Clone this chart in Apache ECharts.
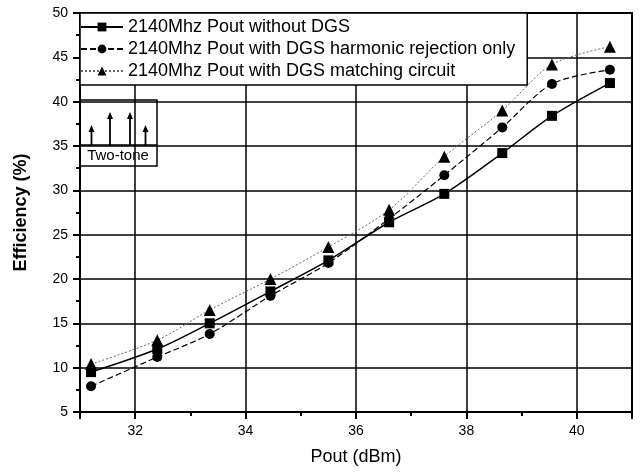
<!DOCTYPE html>
<html>
<head>
<meta charset="utf-8">
<script src="https://cdn.jsdelivr.net/npm/echarts@6/dist/echarts.min.js"></script>
<style>
  html, body { margin: 0; padding: 0; background: #fff; }
  #chart { width: 644px; height: 474px; }
</style>
</head>
<body>
<div id="chart"></div>
<script>
// Pout (dBm) measurement points
var pout = [31.2, 32.4, 33.35, 34.45, 35.5, 36.6, 37.6, 38.65, 39.55, 40.6];
// efficiency (%) per series
var effNoDgs = [9.5, 12.1, 15.0, 18.6, 22.1, 26.4, 29.6, 34.2, 38.4, 42.1];
var effHarmonic = [7.9, 11.2, 13.8, 18.1, 21.8, 26.8, 31.7, 37.1, 42.0, 43.6];
var effMatching = [10.4, 13.1, 16.5, 20.0, 23.6, 27.8, 33.8, 39.0, 44.2, 46.2];
var seriesNames = [
  '2140Mhz Pout without DGS',
  '2140Mhz Pout with DGS harmonic rejection only',
  '2140Mhz Pout with DGS matching circuit'
];

function pairs(ys) {
  return pout.map(function (x, i) { return [x, ys[i]]; });
}

var font = 'Arial, "Liberation Sans", sans-serif';
var chart = echarts.init(document.getElementById('chart'));

// little arrows of the two-tone inset
function arrow(x, top) {
  return [
    { type: 'line', shape: { x1: x, y1: 145, x2: x, y2: top + 4 }, style: { stroke: '#000', lineWidth: 1.8 } },
    { type: 'polygon', shape: { points: [[x - 3, top + 7], [x + 3, top + 7], [x, top]] }, style: { fill: '#000' } }
  ];
}

var inset = [
  { type: 'rect', shape: { x: 80, y: 100, width: 77, height: 66 }, style: { fill: '#fff', stroke: '#000', lineWidth: 1.5 } },
  { type: 'line', shape: { x1: 80, y1: 145, x2: 157, y2: 145 }, style: { stroke: '#000', lineWidth: 1.5 } },
  { type: 'text', x: 118, y: 156, style: { text: 'Two-tone', fontSize: 15, fontFamily: font, fill: '#000', align: 'center', verticalAlign: 'middle' } }
].concat(arrow(91.5, 125), arrow(110, 112), arrow(130, 112), arrow(145.5, 125));

var tickStyle = { color: '#000', width: 2 };

chart.setOption({
  animation: false,
  backgroundColor: '#fff',
  textStyle: { fontFamily: font, color: '#000' },
  grid: {
    left: 80, right: 12, top: 13, bottom: 62,
    show: true, borderColor: '#000', borderWidth: 2
  },
  legend: {
    orient: 'vertical',
    left: 80, top: 13,
    padding: [3, 12, 3, 0],
    itemGap: 0,
    itemWidth: 42,
    itemHeight: 11,
    backgroundColor: '#fff',
    borderColor: '#000',
    borderWidth: 1.5,
    textStyle: { fontSize: 18, color: '#000', fontFamily: font, lineHeight: 22 },
    data: seriesNames
  },
  xAxis: {
    type: 'value',
    min: 31, max: 41, splitNumber: 5,
    name: 'Pout (dBm)',
    nameLocation: 'middle',
    nameGap: 36,
    nameTextStyle: { fontSize: 18, color: '#000', fontFamily: font },
    axisLine: { lineStyle: { color: '#000', width: 2 } },
    axisTick: { show: true, length: 7, lineStyle: tickStyle },
    minorTick: { show: true, splitNumber: 2, length: 4, lineStyle: tickStyle },
    axisLabel: { fontSize: 14, color: '#000', margin: 12, showMinLabel: false, showMaxLabel: false },
    splitLine: { show: true, lineStyle: { color: '#000', width: 1.5 } }
  },
  yAxis: {
    type: 'value',
    min: 5, max: 50, interval: 5,
    name: 'Efficiency (%)',
    nameLocation: 'middle',
    nameGap: 50,
    nameTextStyle: { fontSize: 18, fontWeight: 'bold', color: '#000', fontFamily: font },
    axisLine: { lineStyle: { color: '#000', width: 2 } },
    axisTick: { show: true, length: 7, lineStyle: tickStyle },
    minorTick: { show: true, splitNumber: 2, length: 4, lineStyle: tickStyle },
    axisLabel: { fontSize: 14, color: '#000', margin: 12 },
    splitLine: { show: true, lineStyle: { color: '#000', width: 1.5 } }
  },
  series: [
    {
      name: seriesNames[0], type: 'line', data: pairs(effNoDgs),
      smooth: 0.3, symbol: 'rect', symbolSize: 10,
      itemStyle: { color: '#000' },
      lineStyle: { color: '#000', width: 1.5, type: 'solid' }
    },
    {
      name: seriesNames[1], type: 'line', data: pairs(effHarmonic),
      smooth: 0.3, symbol: 'circle', symbolSize: 10,
      itemStyle: { color: '#000' },
      lineStyle: { color: '#000', width: 1.2, type: [6, 3] }
    },
    {
      name: seriesNames[2], type: 'line', data: pairs(effMatching),
      smooth: 0.3, symbol: 'triangle', symbolSize: 12,
      itemStyle: { color: '#000' },
      lineStyle: { color: '#666', width: 1, type: [2, 2] }
    }
  ],
  graphic: inset
});
</script>
</body>
</html>
